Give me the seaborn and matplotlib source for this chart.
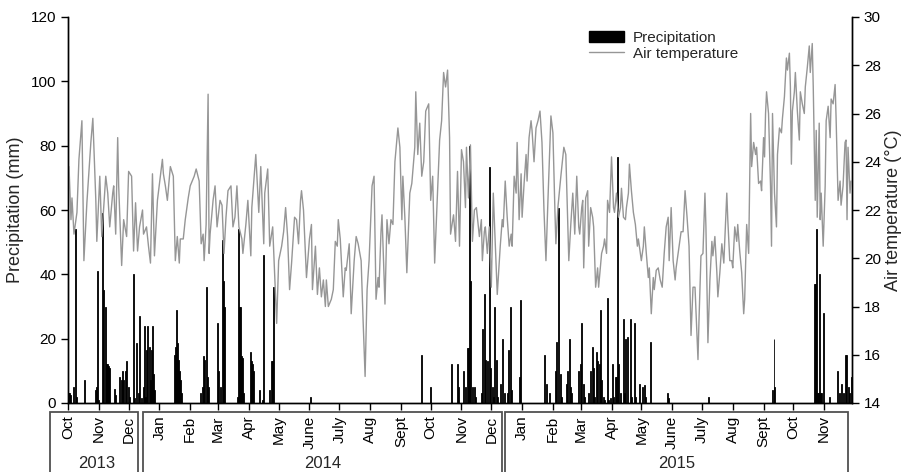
import numpy as np
import pandas as pd
import matplotlib
matplotlib.use('Agg')
import matplotlib.pyplot as plt
from matplotlib.patches import Rectangle, Patch
from matplotlib.lines import Line2D
import seaborn as sns

# day 0 = 1 Oct 2013
start = pd.Timestamp('2013-10-01')
end = pd.Timestamp('2015-11-29')

# daily precipitation (only rainy days)
rain_day = [0, 1, 2, 5, 7, 8, 16, 27, 28, 29, 30, 34, 35, 37, 38, 39, 40, 41, 46, 47,
            51, 53, 54, 55, 57, 58, 60, 61, 65, 66, 68, 70, 71, 73, 75, 76, 77, 79, 80, 82,
            83, 84, 85, 86, 87,
            107, 108, 109, 110, 111, 112, 113, 114,
            133, 135, 136, 137, 139, 140, 141,
            150, 151, 153, 155, 156, 157,
            170, 171, 172, 173, 174, 175, 176,
            183, 184, 185, 186, 192, 195, 196, 202, 204, 205, 206,
            244, 355, 364,
            385, 391, 392, 398, 400, 402, 403, 404, 405, 407, 409, 410,
            416, 417, 419, 420, 422, 424, 425, 427, 428, 429, 431, 432, 435, 437, 439, 442,
            443, 445, 446, 454, 455,
            479, 481, 484, 490, 491, 493, 495, 496, 501, 502, 504, 505, 506,
            513, 515, 516, 518, 519, 523, 525, 527, 528, 529, 531, 532, 534, 535, 536, 538,
            539, 542, 543, 545, 547, 548, 550, 551, 553, 554, 556, 559, 560, 561, 563, 566,
            567, 570, 571, 575, 578, 580, 581, 586,
            603, 604, 644, 708, 710, 711,
            751, 752, 753, 754, 755, 756, 757, 758, 760, 766, 774, 776, 778, 780, 782, 783,
            785, 786, 788]
rain_mm = [3, 3, 2.5, 5, 54, 2, 7, 4, 5, 41, 1, 59, 35, 30, 12, 12, 11.5, 11, 4.5, 2.5,
           8, 7, 10, 7, 10, 13, 5, 2, 40, 1.5, 18.5, 3, 27, 1.5, 5, 24, 2, 16.5, 24, 17.5,
           7, 16.5, 24, 9, 4,
           15, 17.5, 29, 18.5, 13.5, 10, 7, 3,
           3, 5, 14.5, 13.5, 36, 8, 5,
           25, 10, 5, 50.7, 38, 30,
           2, 54, 30, 30, 14.5, 14, 3,
           16, 13, 12, 10, 4, 1, 46, 4, 13, 13, 36,
           2, 15, 5,
           12, 12, 5, 10, 5, 17, 17, 80, 38, 5, 5, 2,
           3, 23, 34, 13.5, 13, 73.5, 11, 5, 2, 30, 13.5, 2, 6, 20, 3, 3,
           16.5, 30, 4, 8, 32,
           15, 6, 3, 10, 19, 60.5, 9, 2, 6, 10, 20, 5, 3,
           10, 12, 25, 6, 2, 3, 10, 17.5, 11, 2, 16, 13, 12, 29, 7, 2,
           1, 32.5, 1, 1.5, 12, 2, 8, 8, 76.5, 12, 3, 26, 3, 20, 20.5, 26,
           2, 25, 2, 6, 5, 5.5, 2, 19,
           3, 1.5, 2, 4, 20, 5,
           37, 37, 54, 3, 3, 40, 3, 3, 28, 2, 10, 3, 6, 3, 15, 15,
           5, 3, 8]

# daily mean air temperature
temp_day = [0, 1, 3, 4, 6, 9, 11, 14, 16, 19, 23, 25, 28, 29, 32, 34, 38, 40, 42, 45,
            46, 48, 50, 51, 54, 56, 59, 61, 64, 66, 68, 70, 72, 75, 76, 79, 81, 83, 85, 87,
            90, 93, 95, 96, 98, 100, 103, 106, 108, 110, 112, 113, 116, 118, 121, 123, 125, 127, 129, 132,
            134, 136, 137, 139, 141, 142, 143, 146, 148, 150, 153, 155, 157, 159, 161, 164, 166, 168, 170, 172,
            175, 176, 179, 181, 184, 185, 189, 191, 192, 194, 197, 198, 201, 203, 206, 207, 210, 212, 215, 217,
            219, 221, 223, 225, 228, 230, 232, 234, 235, 237, 239, 240, 243, 245, 246, 249, 251, 253, 255, 257,
            259, 260, 262, 265, 267, 269, 271, 272, 274, 277, 279, 280, 283, 285, 288, 290, 292, 295, 297, 299,
            301, 303, 306, 308, 310, 312, 313, 315, 316, 319, 321, 323, 325, 327, 329, 332, 334, 336, 337, 339,
            341, 344, 346, 349, 350, 352, 354, 356, 358, 360, 363, 365, 367, 369, 371, 374, 376, 378, 380, 382,
            384, 385, 388, 390, 392, 394, 396, 398, 400, 401, 403, 405, 407, 409, 411, 414, 416, 417, 419, 420,
            422, 424, 426, 428, 431, 432, 435, 437, 438, 440, 442, 444, 446, 447, 449, 451, 452, 454, 456, 457,
            459, 461, 462, 464, 466, 467, 469, 471, 473, 475, 477, 479, 481, 483, 486, 488, 490, 491, 493, 496,
            499, 501, 504, 506, 508, 510, 512, 514, 515, 517, 518, 519, 521, 523, 524, 526, 528, 529, 531, 533,
            534, 537, 539, 540, 542, 543, 545, 547, 549, 550, 552, 554, 556, 557, 559, 561, 562, 564, 565, 567,
            569, 571, 573, 574, 577, 579, 580, 582, 584, 585, 587, 589, 590, 592, 594, 596, 598, 600, 602, 604,
            605, 607, 609, 611, 612, 615, 617, 619, 621, 623, 625, 627, 629, 631, 633, 634, 635, 637, 639, 641,
            642, 644, 646, 648, 649, 651, 653, 654, 656, 658, 660, 663, 664, 666, 668, 669, 671, 673, 674, 676,
            678, 680, 681, 683, 685, 687, 688, 690, 692, 693, 695, 697, 698, 700, 701, 702, 703, 705, 707, 708,
            709, 711, 713, 714, 716, 718, 719, 721, 723, 724, 726, 727, 728, 729, 731, 732, 734, 736, 737, 739,
            741, 742, 744, 746, 747, 749, 750, 752, 753, 754, 756, 757, 758, 760, 762, 763, 765, 767, 768, 770,
            772, 773, 775, 777, 778, 780, 782, 783, 784, 785, 787, 788]
temp_c = [22.3, 23.8, 21.6, 22.5, 21.0, 21.9, 24.1, 25.7, 19.9, 22.3, 24.8, 25.8, 22.4, 20.7, 23.4, 20.9, 23.4, 22.7, 21.3, 22.7,
          23.0, 21.0, 25.0, 23.0, 19.7, 21.6, 20.9, 23.6, 23.4, 20.3, 22.3, 20.3, 21.3, 22.0, 21.0, 21.3, 20.5, 19.8, 23.5, 20.1,
          22.4, 23.4, 24.1, 23.5, 23.0, 22.4, 23.8, 23.4, 19.9, 20.9, 19.8, 20.8, 20.8, 21.6, 22.5, 23.0, 23.2, 23.4, 23.7, 23.2,
          20.6, 21.0, 19.9, 21.4, 26.8, 20.2, 21.0, 22.4, 23.0, 21.3, 22.4, 22.2, 20.2, 21.7, 22.8, 23.0, 21.3, 21.7, 23.0, 21.3,
          20.8, 20.2, 21.4, 22.4, 20.1, 22.1, 24.3, 22.7, 21.9, 23.8, 20.6, 22.7, 23.7, 20.5, 21.3, 20.3, 17.3, 19.9, 20.5, 21.1,
          22.1, 20.9, 18.7, 19.8, 21.7, 21.6, 20.6, 22.4, 22.8, 22.0, 20.1, 19.2, 20.8, 21.4, 18.7, 20.5, 18.5, 19.6, 18.4, 19.1,
          18.0, 19.1, 18.0, 18.3, 18.7, 20.7, 20.5, 21.6, 20.8, 18.4, 19.6, 19.5, 20.6, 17.7, 19.9, 20.9, 20.6, 19.9, 17.4, 15.1,
          18.7, 19.9, 23.0, 23.4, 18.3, 19.2, 18.8, 21.1, 21.8, 18.1, 21.6, 20.6, 21.6, 21.4, 24.0, 25.4, 24.6, 21.6, 23.4, 21.7,
          19.4, 22.7, 23.1, 24.6, 26.9, 24.3, 25.6, 23.4, 24.0, 26.1, 26.4, 22.4, 23.4, 19.8, 21.8, 24.9, 25.7, 27.7, 27.1, 27.8,
          25.0, 21.0, 21.8, 20.7, 23.6, 20.5, 24.5, 24.0, 22.1, 24.6, 22.5, 24.7, 20.7, 22.0, 22.1, 20.9, 21.6, 19.9, 21.1, 21.3,
          20.2, 21.3, 18.8, 22.7, 19.6, 18.5, 20.5, 21.6, 21.3, 23.2, 21.7, 20.5, 21.0, 20.5, 23.4, 22.7, 24.8, 21.6, 23.5, 21.7,
          23.1, 24.3, 23.2, 25.0, 25.7, 25.3, 24.0, 25.4, 25.7, 26.1, 24.8, 22.0, 19.9, 22.4, 25.9, 25.2, 22.0, 20.6, 22.1, 23.4,
          24.6, 24.3, 19.9, 21.4, 22.7, 21.0, 23.4, 21.3, 21.0, 22.1, 22.4, 19.6, 22.5, 22.8, 20.5, 22.1, 21.7, 21.3, 18.8, 19.6,
          18.8, 20.2, 20.5, 20.8, 20.2, 22.4, 21.9, 24.2, 22.1, 21.9, 22.7, 21.7, 22.1, 22.9, 21.7, 21.6, 22.1, 22.7, 23.9, 22.8,
          21.9, 21.4, 20.5, 20.8, 19.9, 20.5, 21.3, 20.2, 19.2, 19.6, 17.7, 19.2, 18.7, 19.5, 19.6, 19.1, 18.8, 20.2, 21.3, 21.7,
          19.9, 22.1, 19.9, 19.1, 19.6, 20.5, 21.1, 21.1, 22.8, 21.7, 20.5, 16.8, 18.8, 18.8, 16.8, 15.8, 17.4, 20.1, 20.2, 22.7,
          21.3, 16.5, 19.1, 20.7, 20.1, 20.9, 19.4, 18.4, 19.4, 20.6, 19.8, 22.7, 21.6, 19.9, 19.9, 19.6, 21.3, 20.7, 21.4, 20.3,
          19.4, 17.7, 18.3, 21.4, 20.2, 26.0, 23.8, 24.8, 24.3, 24.6, 23.1, 23.2, 22.8, 25.0, 24.2, 26.0, 26.9, 26.0, 23.0, 20.5,
          26.0, 22.7, 21.3, 24.3, 25.4, 25.2, 25.8, 26.7, 28.3, 27.8, 28.5, 27.1, 23.9, 26.1, 26.9, 27.7, 26.1, 24.9, 26.9, 26.4,
          26.0, 27.1, 27.9, 28.8, 27.7, 28.9, 27.1, 22.4, 25.3, 21.7, 25.6, 21.6, 22.7, 20.5, 23.0, 25.7, 26.3, 25.0, 26.6, 26.4,
          27.2, 25.8, 22.4, 23.2, 22.2, 23.0, 24.8, 24.9, 21.6, 24.6, 22.7, 23.2]

month_labels = ['Oct', 'Nov', 'Dec',
                'Jan', 'Feb', 'Mar', 'Apr', 'May', 'June', 'July', 'Aug', 'Sept', 'Oct', 'Nov', 'Dec',
                'Jan', 'Feb', 'Mar', 'Apr', 'May', 'June', 'July', 'Aug', 'Sept', 'Oct', 'Nov']
years = ['2013', '2014', '2015']

rain_dates = start + pd.to_timedelta(rain_day, unit='D')
temp = pd.DataFrame({'date': start + pd.to_timedelta(temp_day, unit='D'), 'temp': temp_c})
month_starts = pd.date_range(start, '2015-11-01', freq='MS')

sns.set_style('ticks')
plt.rcParams['font.family'] = ['Liberation Sans', 'DejaVu Sans']

fig = plt.figure(figsize=(9.09, 4.72), dpi=100)
ax = fig.add_axes([68 / 909, 1 - 403 / 472, 784 / 909, 386 / 472])

# precipitation bars
ax.bar(rain_dates, rain_mm, width=1.0, align='edge', color='black',
       edgecolor='black', linewidth=0.6)
ax.set_ylim(0, 120)
ax.set_yticks(range(0, 121, 20))
ax.set_xlim(start, end)
ax.set_xticks(month_starts)
ax.set_xticklabels(month_labels, rotation=90, fontsize=11)
ax.set_ylabel('Precipitation (mm)', fontsize=13, labelpad=5)
ax.tick_params(axis='y', labelsize=11, direction='out', length=5, width=1, colors='black')
ax.tick_params(axis='x', direction='out', length=5, width=1, pad=4, colors='black')

# air temperature on second axis
ax2 = ax.twinx()
sns.lineplot(data=temp, x='date', y='temp', ax=ax2, color='#969696', linewidth=1.0,
             estimator=None, legend=False)
ax2.set_ylim(14, 30)
ax2.set_yticks(range(14, 31, 2))
ax2.set_xlim(start, end)
ax2.set_xlabel('')
ax2.set_ylabel('Air temperature (\u00b0C)', fontsize=13, labelpad=3)
ax2.tick_params(axis='y', labelsize=11, direction='out', length=5, width=1, colors='black')

for a in (ax, ax2):
    a.spines['top'].set_visible(False)
    for s in ('left', 'right', 'bottom'):
        a.spines[s].set_color('black')
        a.spines[s].set_linewidth(1.0)

# year boxes under the month labels
boxes = [(50, 138), (143, 502), (505, 848)]
label_x = [97, 323, 677]
for (x0, x1), yr, lx in zip(boxes, years, label_x):
    fig.patches.append(Rectangle((x0 / 909, -0.05), (x1 - x0) / 909, 0.05 + 1 - 412 / 472,
                                 transform=fig.transFigure, fill=False,
                                 edgecolor='#505050', linewidth=1.3))
    fig.text(lx / 909, 1 - 464 / 472, yr, ha='center', va='center', fontsize=12)

handles = [Patch(facecolor='black', edgecolor='black'),
           Line2D([0], [0], color='#969696', linewidth=1.0)]
fig.legend(handles, ['Precipitation', 'Air temperature'], loc='upper left',
           bbox_to_anchor=(589 / 909, 1 - 31 / 472), frameon=False, fontsize=11,
           handlelength=2.3, handletextpad=0.55, labelspacing=0.1,
           borderpad=0, borderaxespad=0)

fig.savefig('out.png', dpi=100)
